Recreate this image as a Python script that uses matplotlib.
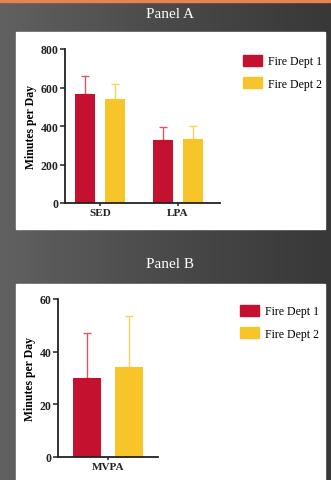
import numpy as np
import matplotlib
matplotlib.use("Agg")
import matplotlib.pyplot as plt
from matplotlib.patches import Rectangle, Patch
from matplotlib.colors import LinearSegmentedColormap

W, H = 331, 481
plt.rcParams['font.family'] = ['Liberation Serif', 'DejaVu Serif']

# ---- data ----
cats_a = ["SED", "LPA"]
dept1_a = [565, 325]
dept1_a_err = [95, 68]
dept2_a = [540, 335]
dept2_a_err = [80, 65]

cats_b = ["MVPA"]
dept1_b = [30]
dept1_b_err = [17]
dept2_b = [34]
dept2_b_err = [19.5]

series = ["Fire Dept 1", "Fire Dept 2"]
RED = "#c4112f"
YEL = "#f7c52a"
RED_ERR = "#d4586a"
YEL_ERR = "#f7d460"

fig = plt.figure(figsize=(W / 100, H / 100), dpi=100)

def box(x0, y0, x1, y1):
    return [x0 / W, 1 - y1 / H, (x1 - x0) / W, (y1 - y0) / H]

# background gradient
bg = fig.add_axes([0, 0, 1, 1], zorder=-10)
grad = np.linspace(0, 1, 256)[None, :]
cm = LinearSegmentedColormap.from_list("g", ["#616161", "#4a4a4a", "#383838"])
bg.imshow(grad, aspect="auto", cmap=cm, extent=[0, 1, 0, 1])
bg.add_patch(Rectangle((0, 1 - 3 / H), 1, 3 / H, color="#e8834f", transform=bg.transAxes))
bg.add_patch(Rectangle((16 / W, 1 - 230 / H), (325 - 16) / W, (230 - 33) / H, color="white", transform=bg.transAxes))
bg.add_patch(Rectangle((16 / W, 0), (325 - 16) / W, (481 - 285) / H, color="white", transform=bg.transAxes))
bg.set_xlim(0, 1); bg.set_ylim(0, 1)
bg.axis("off")

fig.text(170 / W, 1 - 15 / H, "Panel A", color="white", ha="center", va="center", fontsize=11)
fig.text(170 / W, 1 - 265 / H, "Panel B", color="white", ha="center", va="center", fontsize=11)

def style(ax):
    for s in ["top", "right"]:
        ax.spines[s].set_visible(False)
    for s in ["left", "bottom"]:
        ax.spines[s].set_linewidth(1.3)
        ax.spines[s].set_color("#222222")
    ax.set_facecolor("none")
    ax.tick_params(axis="both", width=1.1, colors="#222222", pad=1)
    ax.tick_params(axis="y", length=3.5, labelsize=8.5)
    ax.tick_params(axis="x", length=2.5, labelsize=8)
    for lbl in ax.get_xticklabels() + ax.get_yticklabels():
        lbl.set_fontweight("bold")
    ax.set_ylabel("Minutes per Day", fontsize=8.5, fontweight="bold", labelpad=3)

def legend(ax, x, y):
    ax.legend(handles=[Patch(color=RED), Patch(color=YEL)], labels=series,
              loc="upper left", bbox_to_anchor=(x / W, 1 - y / H), bbox_transform=fig.transFigure,
              frameon=False, fontsize=8.5, handlelength=1.6, handleheight=1.0,
              handletextpad=0.5, labelspacing=0.85, borderpad=0, borderaxespad=0)

# ---- Panel A ----
axA = fig.add_axes(box(65, 50, 220, 204))
xa = np.arange(len(cats_a))
off, wd = 0.19, 0.25
axA.bar(xa - off, dept1_a, wd, color=RED, zorder=2)
axA.bar(xa + off, dept2_a, wd, color=YEL, zorder=2)
axA.errorbar(xa - off, dept1_a, yerr=[np.zeros(len(xa)), dept1_a_err], fmt="none",
             ecolor=RED_ERR, elinewidth=1, capsize=3, capthick=1, zorder=1)
axA.errorbar(xa + off, dept2_a, yerr=[np.zeros(len(xa)), dept2_a_err], fmt="none",
             ecolor=YEL_ERR, elinewidth=1, capsize=3, capthick=1, zorder=1)
axA.set_xlim(-0.449, 1.538)
axA.set_ylim(0, 800)
axA.set_yticks([0, 200, 400, 600, 800])
axA.set_xticks(xa)
axA.set_xticklabels(cats_a)
style(axA)
legend(axA, 243, 56)

# ---- Panel B ----
axB = fig.add_axes(box(58, 300, 158, 458))
xb = np.arange(len(cats_b))
offb, wdb = 0.21, 0.28
axB.bar(xb - offb, dept1_b, wdb, color=RED, zorder=2)
axB.bar(xb + offb, dept2_b, wdb, color=YEL, zorder=2)
axB.errorbar(xb - offb, dept1_b, yerr=[np.zeros(len(xb)), dept1_b_err], fmt="none",
             ecolor=RED_ERR, elinewidth=1, capsize=3, capthick=1, zorder=1)
axB.errorbar(xb + offb, dept2_b, yerr=[np.zeros(len(xb)), dept2_b_err], fmt="none",
             ecolor=YEL_ERR, elinewidth=1, capsize=3, capthick=1, zorder=1)
axB.set_xlim(-0.5, 0.5)
axB.set_ylim(0, 60)
axB.set_yticks([0, 20, 40, 60])
axB.set_xticks(xb)
axB.set_xticklabels(cats_b)
style(axB)
legend(axB, 240, 306)

fig.savefig("out.png", dpi=100)
